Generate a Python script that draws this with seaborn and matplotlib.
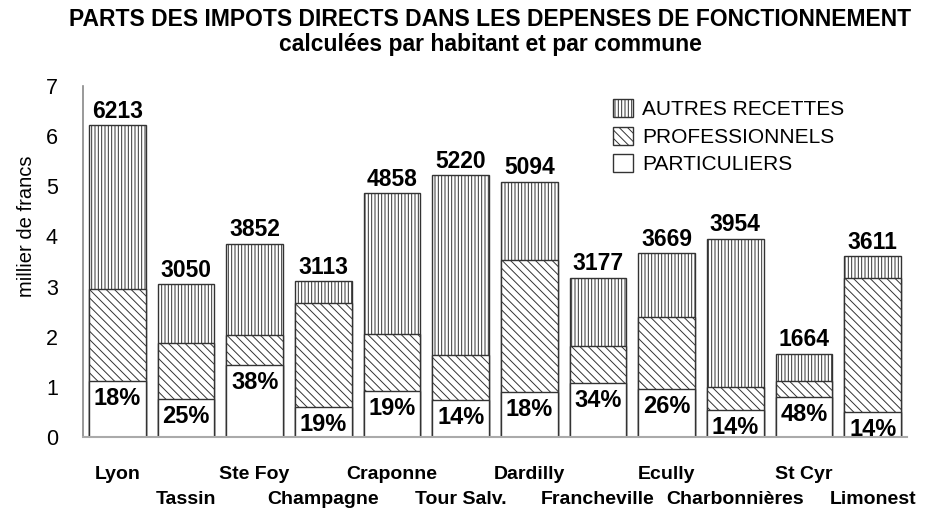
import numpy as np
import pandas as pd
import matplotlib
matplotlib.use("Agg")
import matplotlib.pyplot as plt
import matplotlib.transforms as mtransforms
import seaborn as sns
from matplotlib.patches import Patch

communes = ["Lyon", "Tassin", "Ste Foy", "Champagne", "Craponne", "Tour Salv.",
            "Dardilly", "Francheville", "Ecully", "Charbonnières", "St Cyr", "Limonest"]
totaux = [6213, 3050, 3852, 3113, 4858, 5220, 5094, 3177, 3669, 3954, 1664, 3611]
particuliers = [1.12, 0.75, 1.44, 0.59, 0.91, 0.74, 0.90, 1.08, 0.96, 0.54, 0.80, 0.50]
professionnels = [1.83, 1.12, 0.60, 2.08, 1.15, 0.89, 2.63, 0.73, 1.43, 0.46, 0.31, 2.67]
autres_recettes = [3.263, 1.18, 1.812, 0.443, 2.798, 3.59, 1.564, 1.367, 1.279, 2.954, 0.554, 0.441]
parts_particuliers = ["18%", "25%", "38%", "19%", "19%", "14%", "18%", "34%", "26%", "14%", "48%", "14%"]
series = ["AUTRES RECETTES", "PROFESSIONNELS", "PARTICULIERS"]

sns.set_theme(style="white")
plt.rcParams["font.family"] = ["Liberation Sans", "DejaVu Sans"]
plt.rcParams["text.color"] = "black"
plt.rcParams["axes.labelcolor"] = "black"
plt.rcParams["xtick.color"] = "black"
plt.rcParams["ytick.color"] = "black"
plt.rcParams["hatch.color"] = "#222222"
plt.rcParams["hatch.linewidth"] = 0.7

df = pd.DataFrame({
    "commune": communes,
    "part": particuliers,
    "prof": professionnels,
    "autres": autres_recettes,
})
df["top_part"] = df["part"]
df["top_prof"] = df["part"] + df["prof"]
df["top_autres"] = df["top_prof"] + df["autres"]

fig = plt.figure(figsize=(9.25, 5.08), dpi=100)
ax = fig.add_axes([83 / 925, 71 / 508, 824 / 925, (437 - 86) / 508])

edge = "#333333"
common = dict(x="commune", color="white", edgecolor=edge, linewidth=1.0,
              width=0.83, saturation=1, ax=ax, errorbar=None)
sns.barplot(data=df, y="top_autres", hatch="|||||", **common)
sns.barplot(data=df, y="top_prof", hatch="\\\\\\\\", **common)
sns.barplot(data=df, y="top_part", **common)

ax.set_ylim(0, 7)
ax.set_xlim(-0.5, len(communes) - 0.5)
ax.set_yticks(range(0, 8))
ax.tick_params(axis="y", length=0, pad=18, labelsize=15.5, labelcolor="black")
ax.tick_params(axis="x", length=0, pad=21, labelcolor="black")
ax.set_xticks(range(len(communes)))
ax.set_xticklabels(communes, fontsize=14, fontweight="bold")
shift = mtransforms.ScaledTranslation(0, -0.25, fig.dpi_scale_trans)
for i, lab in enumerate(ax.get_xticklabels()):
    if i % 2 == 1:
        lab.set_transform(lab.get_transform() + shift)
ax.set_xlabel("")
ax.set_ylabel("millier de francs", fontsize=14.5, color="black")
ax.yaxis.set_label_coords(-0.057, 0.60)

for s in ["top", "right"]:
    ax.spines[s].set_visible(False)
ax.spines["left"].set_color("#888888")
ax.spines["bottom"].set_color("#aaaaaa")
ax.spines["left"].set_linewidth(1.2)
ax.spines["bottom"].set_linewidth(1.5)

for i in range(len(communes)):
    ax.annotate(str(totaux[i]), (i, df["top_autres"][i]), xytext=(0, 10),
                textcoords="offset points", ha="center", va="center",
                fontsize=16.5, fontweight="bold", color="black")
    ax.annotate(parts_particuliers[i], (i, df["top_part"][i]), xytext=(0, -12.5),
                textcoords="offset points", ha="center", va="center",
                fontsize=17, fontweight="bold", color="black")

handles = [
    Patch(facecolor="white", edgecolor=edge, hatch="|||||", label=series[0]),
    Patch(facecolor="white", edgecolor=edge, hatch="\\\\\\\\", label=series[1]),
    Patch(facecolor="white", edgecolor=edge, label=series[2]),
]
fig.legend(handles=handles, loc="upper left", bbox_to_anchor=(613 / 925, 1 - 99 / 508),
           frameon=False, fontsize=15, handlelength=0.95, handleheight=0.95,
           handletextpad=0.45, labelspacing=0.36, borderpad=0, borderaxespad=0)

fig.text(490 / 925, 1 - 20 / 508, "PARTS DES IMPOTS DIRECTS DANS LES DEPENSES DE FONCTIONNEMENT",
         ha="center", va="center", fontsize=16.5, fontweight="bold")
fig.text(490 / 925, 1 - 45 / 508, "calculées par habitant et par commune",
         ha="center", va="center", fontsize=16.5, fontweight="bold")

fig.savefig("out.png", dpi=100)
